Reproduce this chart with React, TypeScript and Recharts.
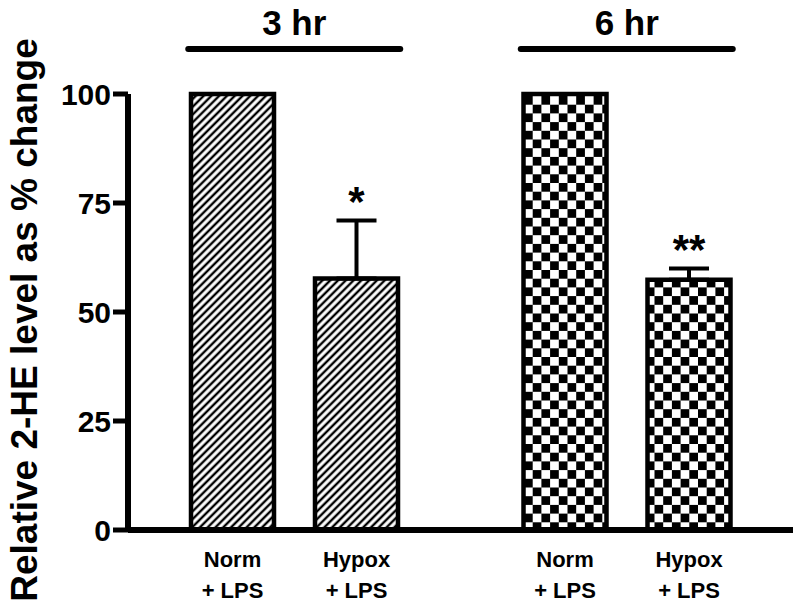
import { Bar, BarChart, Cell, ErrorBar, LabelList, XAxis, YAxis } from 'recharts'

const FONT = '"Liberation Sans", Arial, sans-serif'

const groups = ['3 hr', '6 hr']
const normValues = [100, 100]
const hypoxValues = [57.7, 57.4]
const hypoxErrors = [13.3, 2.6]
const hypoxStars = ['*', '**']
const yTicks = [0, 25, 50, 75, 100]
const normLabel = ['Norm', '+ LPS']
const hypoxLabel = ['Hypox', '+ LPS']
const groupFills = ['url(#hatch)', 'url(#checker)']

const data = groups.map((group, i) => ({
	group,
	norm: normValues[i],
	hypox: hypoxValues[i],
	hypoxErr: [0, hypoxErrors[i]],
	stars: hypoxStars[i],
}))

// group title + bar drawn above each pair of bars
const GroupTick = ({ x, payload }: any) => (
	<g>
		<text x={x} y={35} textAnchor="middle" fontSize={35} fontWeight="bold" fontFamily={FONT} fill="#000">
			{payload.value}
		</text>
		<line x1={x - 106} x2={x + 106} y1={49} y2={49} stroke="#000" strokeWidth={6} strokeLinecap="round" />
	</g>
)

const barLabel = (lines: string[]) => (props: any) => {
	const { x, y, width, height } = props
	const cx = Number(x) + Number(width) / 2
	const bottom = Number(y) + Number(height)
	return (
		<text textAnchor="middle" fontSize={22} fontWeight="bold" fontFamily={FONT} fill="#000">
			<tspan x={cx} y={bottom + 37}>{lines[0]}</tspan>
			<tspan x={cx} y={bottom + 68}>{lines[1]}</tspan>
		</text>
	)
}

const StarLabel = (props: any) => {
	const { x, y, width, height, value } = props
	const i = props.index ?? hypoxStars.indexOf(value)
	const top = Number(y) - (hypoxErrors[i] * Number(height)) / hypoxValues[i]
	return (
		<text x={Number(x) + Number(width) / 2} y={top - 4} textAnchor="middle" fontSize={42} fontWeight="bold" fontFamily={FONT} fill="#000">
			{value}
		</text>
	)
}

const YLabel = () => (
	<text
		x={37}
		y={320}
		transform="rotate(-90 37 320)"
		textAnchor="middle"
		fontSize={37}
		fontWeight="bold"
		fontFamily={FONT}
		fill="#000"
	>
		Relative 2-HE level as % change
	</text>
)

const App = () => {
	return (
		<div style={{ position: 'absolute', left: 0, top: 0, background: '#fff' }}>
			<BarChart
				width={800}
				height={614}
				data={data}
				margin={{ top: 94, right: 7, bottom: 0, left: 0 }}
				barSize={83}
				barGap={41}
			>
				<defs>
					<pattern id="hatch" patternUnits="userSpaceOnUse" width={5.5} height={5.5} patternTransform="rotate(45)">
						<rect width={5.5} height={5.5} fill="#fff" />
						<line x1={2.75} y1={0} x2={2.75} y2={5.5} stroke="#000" strokeWidth={2.4} />
					</pattern>
					<pattern id="checker" patternUnits="userSpaceOnUse" x={524} y={96} width={17.4} height={17.4}>
						<rect width={17.4} height={17.4} fill="#fff" />
						<rect width={8.7} height={8.7} fill="#000" />
						<rect x={8.7} y={8.7} width={8.7} height={8.7} fill="#000" />
					</pattern>
				</defs>
				<XAxis
					dataKey="group"
					height={84}
					interval={0}
					tickLine={false}
					axisLine={{ stroke: '#000', strokeWidth: 6 }}
					tick={<GroupTick />}
				/>
				<YAxis
					width={128}
					domain={[0, 100]}
					ticks={yTicks}
					interval={0}
					tickSize={15}
					tickMargin={2}
					axisLine={{ stroke: '#000', strokeWidth: 6 }}
					tickLine={{ stroke: '#000', strokeWidth: 5 }}
					tick={{ fontSize: 30, fontWeight: 'bold', fill: '#000', fontFamily: FONT }}
					label={<YLabel />}
				/>
				<Bar dataKey="norm" stroke="#000" strokeWidth={4.5} isAnimationActive={false}>
					{data.map((d, i) => (
						<Cell key={d.group} fill={groupFills[i]} />
					))}
					<LabelList dataKey="group" content={barLabel(normLabel)} />
				</Bar>
				<Bar dataKey="hypox" stroke="#000" strokeWidth={4.5} isAnimationActive={false}>
					{data.map((d, i) => (
						<Cell key={d.group} fill={groupFills[i]} />
					))}
					<ErrorBar dataKey="hypoxErr" width={20} strokeWidth={4} stroke="#000" />
					<LabelList dataKey="group" content={barLabel(hypoxLabel)} />
					<LabelList dataKey="stars" content={StarLabel} />
				</Bar>
			</BarChart>
		</div>
	)
}

export default App
